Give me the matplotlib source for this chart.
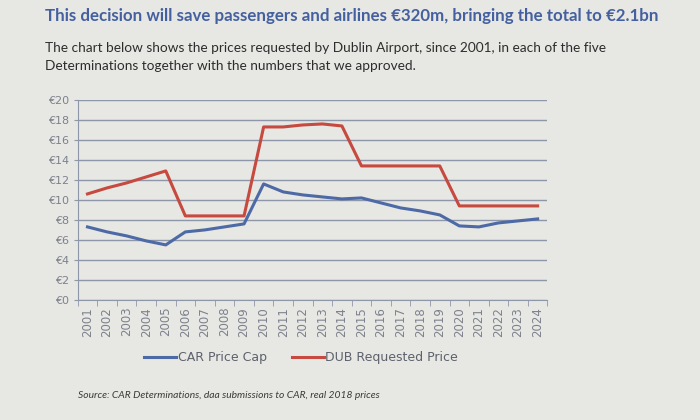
"""Dublin Airport price requests versus CAR price caps, 2001-2024."""

import matplotlib.pyplot as plt

YEARS = [str(y) for y in range(2001, 2025)]

CAR_PRICE_CAP = [
    7.3, 6.8, 6.4, 5.9, 5.5, 6.8, 7.0, 7.3, 7.6, 11.6, 10.8, 10.5,
    10.3, 10.1, 10.2, 9.7, 9.2, 8.9, 8.5, 7.4, 7.3, 7.7, 7.9, 8.1,
]
DUB_REQUESTED = [
    10.6, 11.2, 11.7, 12.3, 12.9, 8.4, 8.4, 8.4, 8.4, 17.3, 17.3, 17.5,
    17.6, 17.4, 13.4, 13.4, 13.4, 13.4, 13.4, 9.4, 9.4, 9.4, 9.4, 9.4,
]
Y_TICKS = list(range(0, 21, 2))

PAPER = "#e7e7e3"
BLUE = "#4d6aa6"
RED = "#c64a3f"
GRID = "#8e96aa"
TICK_TEXT = "#7c818c"


def main() -> None:
    fig = plt.figure(figsize=(7, 4.2), dpi=100, facecolor=PAPER)
    ax = fig.add_axes([0.111, 0.286, 0.671, 0.476], facecolor=PAPER)

    x = list(range(len(YEARS)))
    ax.plot(x, CAR_PRICE_CAP, color=BLUE, linewidth=2.2, label="CAR Price Cap")
    ax.plot(x, DUB_REQUESTED, color=RED, linewidth=2.2, label="DUB Requested Price")

    ax.set_xlim(-0.5, len(YEARS) - 0.5)
    ax.set_ylim(0, 20)
    ax.set_yticks(Y_TICKS)
    ax.set_yticklabels([f"€{v}" for v in Y_TICKS])
    ax.set_xticks(x)
    ax.set_xticklabels(YEARS, rotation=90)
    ax.set_xticks([i - 0.5 for i in range(len(YEARS) + 1)], minor=True)

    ax.grid(axis="y", color=GRID, linewidth=1.0)
    ax.set_axisbelow(True)
    for side in ("top", "right"):
        ax.spines[side].set_visible(False)
    ax.spines["left"].set_color(GRID)
    ax.spines["bottom"].set_color(GRID)

    ax.tick_params(axis="y", colors=GRID, labelcolor=TICK_TEXT, labelsize=8,
                   length=3, pad=3)
    ax.tick_params(axis="x", which="major", length=0, labelcolor=TICK_TEXT,
                   labelsize=8.5, pad=5)
    ax.tick_params(axis="x", which="minor", length=4, color=GRID)

    fig.legend(loc="center", bbox_to_anchor=(0.43, 0.148), ncol=2,
               frameon=False, fontsize=9, handlelength=2.6, handletextpad=0.1,
               columnspacing=2.0, labelcolor="#5c616c")

    fig.text(0.064, 0.962, "This decision will save passengers and airlines "
             "€320m, bringing the total to €2.1bn", fontsize=12.2,
             fontweight="bold", color="#4460a0", family="Lato", va="center")
    fig.text(0.064, 0.886, "The chart below shows the prices requested by "
             "Dublin Airport, since 2001, in each of the five",
             fontsize=9.8, color="#2d2d2d", family="Lato", va="center")
    fig.text(0.064, 0.843, "Determinations together with the numbers that "
             "we approved.", fontsize=9.8, color="#2d2d2d", family="Lato",
             va="center")
    fig.text(0.111, 0.058, "Source: CAR Determinations, daa submissions to "
             "CAR, real 2018 prices", fontsize=7.4, style="italic",
             color="#3a3a3a", family="Lato", va="center")

    fig.savefig("out.png", dpi=100, facecolor=PAPER)
    plt.close(fig)


if __name__ == "__main__":
    main()
